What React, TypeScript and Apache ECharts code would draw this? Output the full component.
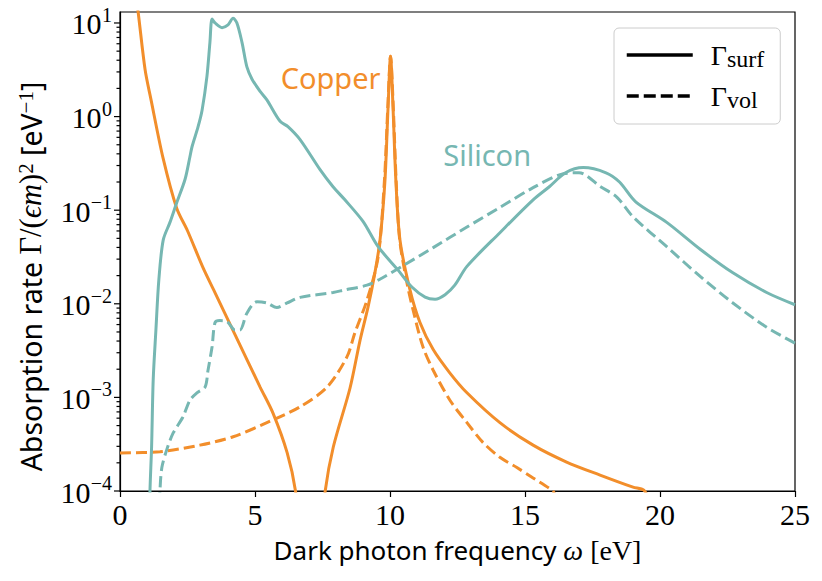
import React, { useEffect, useRef } from 'react';
import * as echarts from 'echarts';

const COPPER = '#F28E2B';
const SILICON = '#76B7B2';
const SERIF = "'Liberation Serif', 'DejaVu Serif', serif";
const SANS = "'Noto Sans', 'DejaVu Sans', sans-serif";

const xMin = 0;
const xMax = 25;
const xInterval = 5;
const yMin = 1e-4;
const yMax = 13.1;

const yMajorTicks = [1e-4, 1e-3, 1e-2, 1e-1, 1, 10];
const yMinorMultipliers = [2, 3, 4, 5, 6, 7, 8, 9];
const yMinorDecades = [1e-4, 1e-3, 1e-2, 1e-1, 1];

// [omega (eV), rate]
const copperSurf: ([number, number] | null)[] = [
  [0.6, 17.8], [0.67, 13.2], [0.93, 3.16], [1.15, 1.51], [1.6, 0.355], [2.1, 0.105],
  [2.5, 0.0603], [3.07, 0.0245], [3.5, 0.0135], [4.26, 0.00468], [5.19, 0.00129],
  [5.67, 6.76e-4], [6.19, 2.57e-4], [6.5, 1.0e-4], [6.55, 5e-5],
  null,
  [7.55, 5e-5], [7.6, 1e-4], [7.9, 2.95e-4], [8.52, 1.26e-3], [8.89, 4.07e-3],
  [9.19, 9.33e-3], [9.44, 0.0214], [9.63, 0.0479], [9.81, 0.2], [9.93, 1.29],
  [10.02, 4.4], [10.11, 1.29], [10.22, 0.2], [10.37, 0.0479], [10.74, 0.0141],
  [11.11, 6.31e-3], [11.6, 3.24e-3], [12.22, 1.82e-3], [12.85, 1.12e-3],
  [14.07, 5.37e-4], [15.3, 3.09e-4], [16.54, 2.04e-4], [17.78, 1.48e-4],
  [19.0, 1.1e-4], [19.4, 1.02e-4], [19.6, 8e-5],
];

const copperVol: [number, number][] = [
  [0, 2.55e-4], [1.48, 2.63e-4], [2.96, 3.09e-4], [4.19, 3.8e-4], [5.44, 5.37e-4],
  [6.67, 7.94e-4], [7.67, 1.29e-3], [8.4, 2.69e-3], [8.7, 4.9e-3], [9.15, 0.011],
  [9.56, 0.0316], [9.79, 0.2], [9.92, 1.29], [10.02, 4.4], [10.12, 1.29],
  [10.23, 0.2], [10.36, 0.0479], [10.63, 0.0166], [10.85, 8.7e-3], [11.22, 3.47e-3],
  [11.6, 1.95e-3], [12.22, 9.33e-4], [12.85, 5.37e-4], [13.44, 3.31e-4],
  [14.07, 2.29e-4], [14.7, 1.78e-4], [15.3, 1.38e-4], [15.9, 1.07e-4], [16.04, 1e-4],
  [16.2, 8e-5],
];

const siliconSurf: [number, number][] = [
  [1.08, 3e-5], [1.11, 1e-4], [1.17, 2.95e-4], [1.23, 1.55e-3], [1.33, 5.25e-3],
  [1.44, 0.0182], [1.6, 0.0479], [1.85, 0.0741], [2.1, 0.12], [2.41, 0.214],
  [2.59, 0.372], [2.67, 0.479], [2.89, 0.776], [3.04, 1.17], [3.22, 2.69],
  [3.33, 6.17], [3.41, 11.0], [3.52, 10.0], [3.78, 8.91], [4.0, 9.55], [4.19, 11.2],
  [4.33, 10.0], [4.52, 6.17], [4.7, 3.39], [4.89, 2.51], [5.19, 1.86], [5.44, 1.51],
  [5.93, 0.891], [6.22, 0.782], [6.67, 0.568], [7.41, 0.271], [7.89, 0.178],
  [8.33, 0.129], [9.0, 0.0759], [9.56, 0.0407], [10.3, 0.0229], [10.81, 0.0151],
  [11.3, 0.0118], [11.67, 0.0112], [12.04, 0.0125], [12.4, 0.0158], [12.85, 0.0251],
  [14.07, 0.0575], [15.3, 0.129], [15.9, 0.178], [16.5, 0.251], [17.16, 0.285],
  [18.0, 0.251], [18.5, 0.2], [19.1, 0.123], [20.25, 0.0741], [21.5, 0.038],
  [22.7, 0.0214], [23.95, 0.0132], [25.0, 0.00977],
];

const siliconVol: [number, number][] = [
  [1.46, 5e-5], [1.48, 1e-4], [1.55, 1.78e-4], [1.73, 2.75e-4], [1.97, 4.17e-4],
  [2.33, 6.17e-4], [2.59, 9.33e-4], [2.85, 1.12e-3], [3.15, 1.29e-3], [3.26, 1.95e-3],
  [3.41, 3.47e-3], [3.52, 6.31e-3], [3.7, 6.61e-3], [3.96, 6.46e-3], [4.26, 5.25e-3],
  [4.44, 5.25e-3], [4.7, 7.94e-3], [5.07, 0.0105], [5.44, 0.0102], [5.81, 9.12e-3],
  [6.19, 0.0102], [6.67, 0.0117], [7.89, 0.0132], [8.33, 0.0141], [9.15, 0.0158],
  [9.74, 0.0191], [10.44, 0.0251], [11.6, 0.0398], [12.85, 0.0661], [14.07, 0.107],
  [15.3, 0.174], [16.3, 0.24], [17.0, 0.251], [17.8, 0.178], [18.4, 0.138],
  [19.0, 0.0851], [20.25, 0.0407], [21.5, 0.0195], [22.7, 0.0102], [23.95, 0.00562],
  [25.0, 0.0038],
];

const legendNames = ['surf', 'vol'];
const annotations = [
  { text: 'Copper', x: 7.8, y: 2.61, color: COPPER },
  { text: 'Silicon', x: 13.6, y: 0.393, color: SILICON },
];

const xAxisTitle = '{s|Dark photon frequency }{m|ω}{r| [eV]}';
const yAxisTitle = '{s|Absorption rate }{g|Γ/(}{i|ϵm}{g|)}{p|2}{s| [eV}{p|−1}{s|]}';

function buildOption() {
  const tickData: number[][] = [];
  yMajorTicks.forEach((v) => tickData.push([xMin, v, 6, 1]));
  yMinorDecades.forEach((d) =>
    yMinorMultipliers.forEach((m) => {
      const v = d * m;
      if (v <= yMax) tickData.push([xMin, v, 3.5, 0]);
    })
  );

  const mark = (a: typeof annotations[number]) => ({
    symbol: 'rect',
    symbolSize: 1,
    itemStyle: { color: 'rgba(0,0,0,0)' },
    label: {
      show: true,
      position: 'inside',
      formatter: a.text,
      color: a.color,
      fontFamily: SANS,
      fontSize: 29,
      fontWeight: 'normal',
      textBorderWidth: 0,
    },
    data: [{ coord: [a.x, a.y] }],
  });

  const curve = (name: string, data: any[], color: string, dashed: boolean, extra: any = {}) => ({
    type: 'line',
    name,
    data,
    symbol: 'none',
    showSymbol: false,
    smooth: 0.3,
    connectNulls: false,
    clip: true,
    lineStyle: { color, width: 3, type: dashed ? [11, 5] : 'solid' },
    itemStyle: { color },
    silent: true,
    ...extra,
  });

  return {
    animation: false,
    backgroundColor: '#ffffff',
    textStyle: { fontFamily: SERIF, fontWeight: 'normal' },
    grid: {
      left: 120,
      top: 12,
      right: 27,
      bottom: 90,
      show: true,
      borderColor: '#000',
      borderWidth: 1.2,
      containLabel: false,
      outerBoundsMode: 'none',
    },
    legend: {
      data: legendNames,
      orient: 'vertical',
      left: 614,
      top: 28,
      padding: [13, 16, 12, 11],
      itemWidth: 66,
      itemHeight: 14,
      itemGap: 11,
      backgroundColor: 'rgba(255,255,255,0.8)',
      borderColor: '#cccccc',
      borderWidth: 1,
      borderRadius: 5,
      selectedMode: false,
      lineStyle: { width: 3.5 },
      itemStyle: { opacity: 0, color: 'rgba(0,0,0,0)', borderWidth: 0 },
      formatter: (n: string) => '{g|Γ}{s|' + n + '}',
      textStyle: {
        fontFamily: SERIF,
        rich: {
          g: { fontFamily: SERIF, fontSize: 28, lineHeight: 32, color: '#000', fontWeight: 'normal', padding: [0, 0, 0, 13] },
          s: { fontFamily: SERIF, fontSize: 24, lineHeight: 16, color: '#000', fontWeight: 'normal', verticalAlign: 'bottom' },
        },
      },
    },
    xAxis: {
      type: 'value',
      min: xMin,
      max: xMax,
      interval: xInterval,
      name: xAxisTitle,
      nameLocation: 'middle',
      nameGap: 45,
      nameTextStyle: {
        rich: {
          s: { fontFamily: SANS, fontSize: 26, color: '#000', fontWeight: 'normal' },
          m: { fontFamily: SERIF, fontStyle: 'italic', fontSize: 28, color: '#000', fontWeight: 'normal' },
          r: { fontFamily: SERIF, fontSize: 28, color: '#000', fontWeight: 'normal' },
        },
      },
      axisLine: { show: true, lineStyle: { color: '#000', width: 1.2 } },
      axisTick: { show: true, length: 6, lineStyle: { color: '#000', width: 1.2 } },
      axisLabel: { fontFamily: SERIF, fontSize: 30, color: '#000', margin: 8, fontWeight: 'normal' },
      splitLine: { show: false },
    },
    yAxis: {
      type: 'log',
      logBase: 10,
      min: yMin,
      max: yMax,
      name: yAxisTitle,
      nameLocation: 'middle',
      nameRotate: 90,
      nameGap: 74,
      nameTextStyle: {
        padding: [0, 50, 0, 0],
        rich: {
          s: { fontFamily: SANS, fontSize: 28.5, color: '#000', fontWeight: 'normal' },
          g: { fontFamily: SERIF, fontSize: 30.5, color: '#000', fontWeight: 'normal' },
          i: { fontFamily: SERIF, fontStyle: 'italic', fontSize: 30.5, color: '#000', fontWeight: 'normal' },
          p: { fontFamily: SERIF, fontSize: 21, color: '#000', fontWeight: 'normal', verticalAlign: 'top', lineHeight: 18 },
        },
      },
      axisLine: { show: true, lineStyle: { color: '#000', width: 1.2 } },
      axisTick: { show: false },
      axisLabel: { show: false },
      splitLine: { show: false },
      minorTick: { show: false },
    },
    series: [
      curve('Copper surf', copperSurf, COPPER, false, { markPoint: mark(annotations[0]) }),
      curve('Copper vol', copperVol, COPPER, true),
      curve('Silicon surf', siliconSurf, SILICON, false, { markPoint: mark(annotations[1]) }),
      curve('Silicon vol', siliconVol, SILICON, true),
      {
        type: 'line',
        name: 'surf',
        data: [],
        symbol: 'none',
        lineStyle: { color: '#000', width: 3.5, type: 'solid' },
        itemStyle: { color: '#000' },
      },
      {
        type: 'line',
        name: 'vol',
        data: [],
        symbol: 'none',
        lineStyle: { color: '#000', width: 3.5, type: [12, 5] },
        itemStyle: { color: '#000' },
      },
      {
        type: 'custom',
        name: 'yticks',
        silent: true,
        clip: false,
        z: 10,
        encode: { x: 0, y: 1 },
        data: tickData,
        renderItem: (_params: any, api: any) => {
          const v = api.value(1);
          const p = api.coord([api.value(0), v]);
          const len = api.value(2);
          const children: any[] = [
            {
              type: 'line',
              shape: { x1: p[0] - len, y1: p[1], x2: p[0], y2: p[1] },
              style: { stroke: '#000', lineWidth: 1.2 },
            },
          ];
          if (api.value(3) === 1) {
            const r = Math.round(Math.log10(v));
            const expText = r < 0 ? '−' + -r : String(r);
            const expWidth = r < 0 ? 21.5 : 10.5;
            const right = p[0] - 8;
            children.push({
              type: 'text',
              x: right,
              y: p[1] - 8,
              style: {
                text: expText,
                align: 'right',
                verticalAlign: 'middle',
                fill: '#000',
                font: "normal 20px 'Liberation Serif', serif",
              },
            });
            children.push({
              type: 'text',
              x: right - expWidth,
              y: p[1] + 1,
              style: {
                text: '10',
                align: 'right',
                verticalAlign: 'middle',
                fill: '#000',
                font: "normal 30px 'Liberation Serif', serif",
              },
            });
          }
          return { type: 'group', children };
        },
      },
    ],
  };
}

export default function App() {
  const ref = useRef<HTMLDivElement>(null);
  useEffect(() => {
    document.body.style.margin = '0';
    const chart = echarts.init(ref.current!, null, { renderer: 'svg' });
    chart.setOption(buildOption() as any);
    return () => chart.dispose();
  }, []);
  return (
    <div
      ref={ref}
      style={{ position: 'absolute', left: 0, top: 0, width: 822, height: 581 }}
    />
  );
}
